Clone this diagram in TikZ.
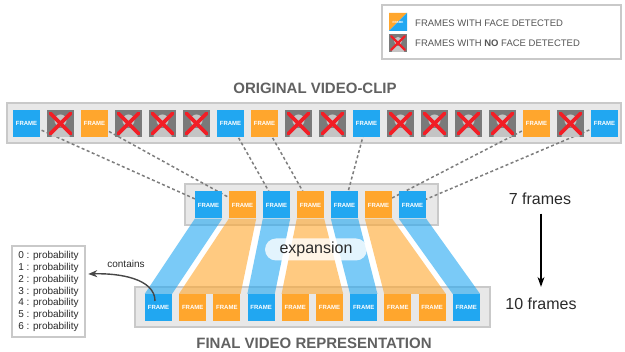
\documentclass[tikz,border=0pt]{standalone}
\usepackage{fontspec}
\setmainfont{Liberation Sans}
\usetikzlibrary{arrows.meta,calc}
\definecolor{fblue}{HTML}{21A7F1}
\definecolor{forange}{HTML}{FFA62D}
\definecolor{stripfill}{HTML}{E8E8E8}
\definecolor{stripline}{HTML}{C9C9C9}
\definecolor{xgray}{HTML}{7A7A7A}
\definecolor{xlight}{HTML}{C4C4C4}
\definecolor{xred}{HTML}{F21E26}
\definecolor{titlegray}{HTML}{616161}
\definecolor{dashgray}{HTML}{7D7D7D}
\definecolor{legtextc}{HTML}{555555}
\definecolor{darktext}{HTML}{2A2A2A}
\pgfdeclarelayer{bg}
\pgfdeclarelayer{mid}
\pgfsetlayers{bg,mid,main}
\tikzset{
  framebox/.style={minimum size=27pt, inner sep=0pt, text=white, font=\fontsize{6}{6}\selectfont\bfseries},
  bluef/.style={framebox, fill=fblue},
  orangef/.style={framebox, fill=forange},
  strip/.style={fill=stripfill, draw=stripline, line width=1.5pt},
  xcross/.style={draw=xred, line width=3.6pt, line cap=round},
  noface/.pic={
    \fill[xgray] (-13.5,-13.5) rectangle (13.5,13.5);
    \fill[xlight] (0,-3) circle (6);
    \fill[xlight] (-9,13.5) -- (-9,9.5) .. controls (-9,6) and (-7,4.5) .. (-4,4.5) -- (4,4.5) .. controls (7,4.5) and (9,6) .. (9,9.5) -- (9,13.5) -- cycle;
    \draw[xcross] (-10,-10) -- (10,10) (10,-10) -- (-10,10);
  },
  dashline/.style={draw=dashgray, line width=1.5pt, dash pattern=on 3pt off 2.5pt},
  bandb/.style={fill=fblue, fill opacity=0.6},
  bando/.style={fill=forange, fill opacity=0.6},
  pill/.style={fill=white, fill opacity=0.8, text opacity=1, rounded corners=11pt, minimum width=102pt, minimum height=22pt, inner sep=0pt, font=\fontsize{16}{16}\selectfont, text=darktext},
  titletext/.style={font=\fontsize{15}{15}\selectfont\bfseries, text=titlegray, inner sep=0pt},
  legtext/.style={font=\fontsize{9.5}{10}\selectfont, text=legtextc, inner sep=0pt},
  sidetext/.style={font=\fontsize{16}{16}\selectfont, text=darktext},
  probbox/.style={draw=stripline, line width=1.5pt, fill=white, minimum width=73pt, minimum height=91pt, align=left, font=\fontsize{10}{11.8}\selectfont, text=darktext, inner sep=0pt},
  arrowline/.style={line width=1.4pt},
}
\begin{document}
\begin{tikzpicture}[x=1pt,y=-1pt]
\useasboundingbox (0,0) rectangle (625,352);

% legend
\draw[draw=stripline, line width=1.2pt, fill=white] (382,5) rectangle (621,59);
\fill[forange] (389,13) -- (407,13) -- (389,31) -- cycle;
\fill[fblue] (407,13) -- (407,31) -- (389,31) -- cycle;
\node[font=\fontsize{3}{3}\selectfont\bfseries, text=white, inner sep=0pt] (lgicon) at (398,22) {FRAME};
\pic[scale=0.667, xcross/.style={draw=xred, line width=2.4pt, line cap=round}] (lgx) at (398,43) {noface};
\node[legtext, anchor=base west] (lg1) at (415,26.5) {FRAMES WITH FACE DETECTED};
\node[legtext, anchor=base west] (lg2) at (415,46.5) {FRAMES WITH \textbf{NO} FACE DETECTED};

% titles
\node[titletext, anchor=base] (ttop) at (315,93.5) {ORIGINAL VIDEO-CLIP};
\node[titletext, anchor=base] (tbot) at (314,349) {FINAL VIDEO REPRESENTATION};

% top frames
\foreach \i/\c [count=\k from 0] in {0/bluef,2/orangef,6/bluef,7/orangef,10/bluef,15/orangef,17/bluef}
  \node[\c] (t\k) at (26.5+34*\i,123.5) {FRAME};
\foreach \i in {1,3,4,5,8,9,11,12,13,14,16}
  \pic (nf\i) at (26.5+34*\i,123.5) {noface};

% middle frames
\foreach \c [count=\k from 0] in {bluef,orangef,bluef,orangef,bluef,orangef,bluef}
  \node[\c] (m\k) at (208.5+34*\k,205) {FRAME};

% bottom frames
\foreach \c [count=\k from 0] in {bluef,orangef,orangef,bluef,orangef,orangef,bluef,orangef,orangef,bluef}
  \node[\c] (b\k) at (158.5+34.2*\k,307.5) {FRAME};

% strips
\begin{pgfonlayer}{bg}
  \draw[strip] (7,103) rectangle (621,143);
  \draw[strip] (185,184) rectangle (438,225);
  \draw[strip] (135,287) rectangle (490,327);
\end{pgfonlayer}

% dashed selection lines and expansion bands
\begin{pgfonlayer}{mid}
  \foreach \k in {0,...,6}
    \draw[dashline] (t\k.center) -- (m\k.center);
  \fill[bandb] (m0.south west) -- (m0.south east) -- (b0.north east) -- (b0.north west) -- cycle;
  \fill[bando] (m1.south west) -- (m1.south east) -- (b2.north east) -- (b1.north west) -- cycle;
  \fill[bandb] (m2.south west) -- (m2.south east) -- (b3.north east) -- (b3.north west) -- cycle;
  \fill[bando] (m3.south west) -- (m3.south east) -- (b5.north east) -- (b4.north west) -- cycle;
  \fill[bandb] (m4.south west) -- (m4.south east) -- (b6.north east) -- (b6.north west) -- cycle;
  \fill[bando] (m5.south west) -- (m5.south east) -- (b8.north east) -- (b7.north west) -- cycle;
  \fill[bandb] (m6.south west) -- (m6.south east) -- (b9.north east) -- (b9.north west) -- cycle;
\end{pgfonlayer}

\node[pill] (exp) at (316,249.5) {expansion};

% frame counts
\node[sidetext, anchor=base] (seven) at (540,205) {7 frames};
\node[sidetext, anchor=base] (ten) at (541,310) {10 frames};
\draw[arrowline, -{Stealth[length=10pt,width=7pt]}, shorten <=5pt, shorten >=8pt] (seven.south -| ten.north) -- (ten.north);

% probability box
\node[probbox] (prob) at (48.5,291.5) {0 : probability\\1 : probability\\2 : probability\\3 : probability\\4 : probability\\5 : probability\\6 : probability};
\node[font=\fontsize{10}{12}\selectfont, text=darktext, anchor=base, inner sep=0pt] (cont) at (126,268) {contains};
\coordinate (cstart) at ($(b0.center)+(-3.5,-6.5)$);
\coordinate (cend) at ($(prob.east)+(2.5,-17.5)$);
\draw[arrowline, draw=black!72, -{Stealth[length=9pt,width=7pt]}] (cstart) .. controls ($(cstart)+(0,-22)$) and ($(cend)+(32,-1)$) .. (cend);
\end{tikzpicture}
\end{document}
